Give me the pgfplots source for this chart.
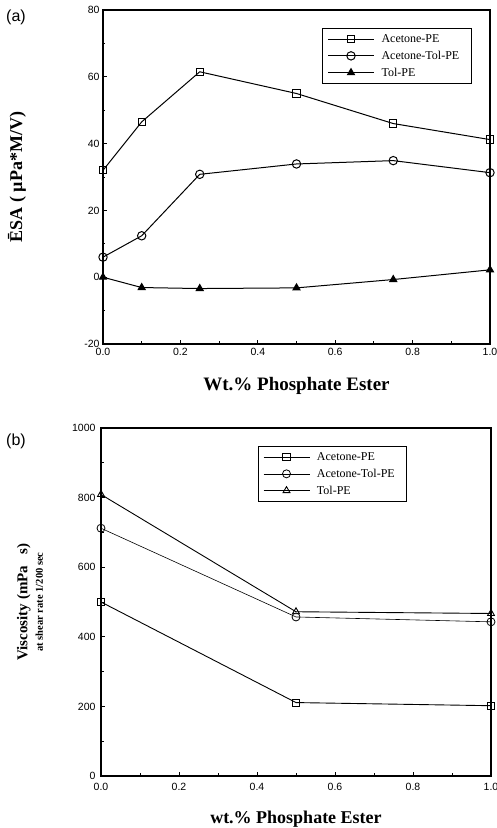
\documentclass[border=0pt]{standalone}
\usepackage{fontspec}
\setmainfont{Liberation Serif}
\setsansfont{Liberation Sans}
\usepackage{pgfplots}
\pgfplotsset{compat=1.18}
\begin{document}
\begin{tikzpicture}
\useasboundingbox (0pt,0pt) rectangle (497pt,828pt);
\pgfplotsset{
  every axis/.append style={
    scale only axis,
    axis line style={line width=1.4pt},
    tick align=inside,
    xtick pos=bottom, ytick pos=left,
    major tick length=4pt, minor tick length=2.5pt,
    every tick/.style={black, line width=0.9pt},
    /pgf/number format/assume math mode=true,
    /pgf/number format/1000 sep={},
    tick label style={font=\sffamily\fontsize{10.5}{11}\selectfont},
    xticklabel style={yshift=-1pt},
    label style={font=\bfseries\fontsize{19}{20}\selectfont},
    legend cell align=left,
    legend style={font=\fontsize{12}{13}\selectfont, draw=black, line width=1pt, row sep=3pt, inner xsep=5pt, inner ysep=4pt,
      nodes={inner xsep=7pt}},
    legend image code/.code={\draw[mark repeat=2,mark phase=2,#1] plot coordinates {(0pt,0pt) (23pt,0pt) (46pt,0pt)};},
  },
}
% Panel (a)
\begin{axis}[
  at={(103pt,484pt)}, anchor=south west,
  width=387pt, height=334pt,
  xmin=0, xmax=1, ymin=-20, ymax=80,
  xtick={0,0.2,0.4,0.6,0.8,1.0},
  xticklabels={0.0,0.2,0.4,0.6,0.8,1.0},
  ytick={-20,0,20,40,60,80},
  minor x tick num=1, minor y tick num=1,
  xlabel={Wt.\% Phosphate Ester},
  ylabel={\={E}SA ( µPa*M/V)},
  xlabel style={at={(0.5,-0.09)}, anchor=north},
  ylabel style={at={(-0.222,0.5)}, anchor=center, font=\bfseries\fontsize{18}{19}\selectfont},
  clip=false,
  legend style={at={(0.953,0.946)}, anchor=north east},
]
\addplot[black, line width=1pt, mark=square, mark size=3.6pt, mark options={solid, fill=white, line width=1pt}]
  coordinates {(0,32) (0.1,46.5) (0.25,61.5) (0.5,55) (0.75,46) (1.0,41.2)};
\addlegendentry{Acetone-PE}
\addplot[black, line width=1pt, mark=o, mark size=4.2pt, mark options={solid, fill=white, line width=1pt}]
  coordinates {(0,6) (0.1,12.4) (0.25,30.8) (0.5,33.9) (0.75,34.9) (1.0,31.3)};
\addlegendentry{Acetone-Tol-PE}
\addplot[black, line width=1pt, mark=triangle*, mark size=4pt, mark options={solid, fill=black}]
  coordinates {(0,0) (0.1,-3.1) (0.25,-3.4) (0.5,-3.2) (0.75,-0.7) (1.0,2.2)};
\addlegendentry{Tol-PE}
\end{axis}
\node[font=\sffamily\fontsize{16}{17}\selectfont] at (16pt,811pt) {(a)};
% Panel (b)
\begin{axis}[
  at={(101pt,52pt)}, anchor=south west,
  width=390pt, height=348pt,
  xmin=0, xmax=1, ymin=0, ymax=1000,
  xtick={0,0.2,0.4,0.6,0.8,1.0},
  xticklabels={0.0,0.2,0.4,0.6,0.8,1.0},
  ytick={0,200,400,600,800,1000},
  minor x tick num=1, minor y tick num=1,
  xticklabel style={yshift=-3pt},
  yticklabel style={xshift=-2pt},
  xlabel={wt.\% Phosphate Ester},
  ylabel={\shortstack{{\fontsize{15}{16}\selectfont Viscosity (mPa\ \ \ s)}\\[2pt] {\fontsize{10.5}{11}\selectfont at shear rate 1/200 sec}}},
  xlabel style={at={(0.5,-0.09)}, anchor=north, font=\bfseries\fontsize{18}{19}\selectfont},
  ylabel style={at={(-0.182,0.5)}, anchor=center},
  clip=false,
  legend style={at={(0.785,0.948)}, anchor=north east, line width=0.8pt},
]
\addplot[black, line width=0.9pt, mark=square, mark size=3.6pt, mark options={solid, fill=white, line width=0.9pt}]
  coordinates {(0,500) (0.5,211) (1.0,202)};
\addlegendentry{Acetone-PE}
\addplot[black, line width=0.6pt, mark=o, mark size=4pt, mark options={solid, fill=white, line width=0.8pt}]
  coordinates {(0,712) (0.5,457) (1.0,443)};
\addlegendentry{Acetone-Tol-PE}
\addplot[black, line width=0.9pt, mark=triangle, mark size=4pt, mark options={solid, fill=white, line width=0.9pt}]
  coordinates {(0,809) (0.5,472) (1.0,467)};
\addlegendentry{Tol-PE}
\end{axis}
\node[font=\sffamily\fontsize{16}{17}\selectfont] at (16pt,387pt) {(b)};
\end{tikzpicture}
\end{document}
